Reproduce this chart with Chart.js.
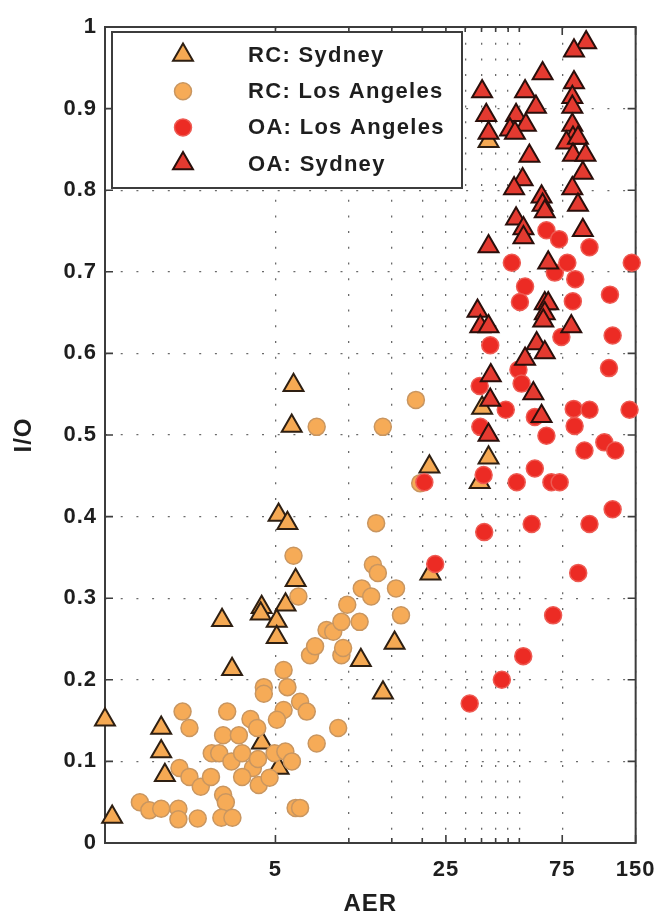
<!DOCTYPE html>
<html>
<head>
<meta charset="utf-8">
<script src="https://cdn.jsdelivr.net/npm/chart.js@4.4.1/dist/chart.umd.min.js"></script>
<style>
  html, body { margin: 0; padding: 0; background: #fff; }
</style>
</head>
<body>
<canvas id="grafico" width="668" height="921"></canvas>
<script>
// valores: [AER, I/O]
const rcSydney = [
  [1.0, 0.151], [1.07, 0.032], [1.70, 0.141], [1.70, 0.112], [1.76, 0.083],
  [3.02, 0.273], [3.32, 0.213], [4.39, 0.289], [4.35, 0.281], [5.5, 0.292],
  [5.06, 0.272], [5.06, 0.252], [6.05, 0.322], [5.93, 0.561], [5.83, 0.511],
  [5.15, 0.402], [5.6, 0.392], [4.4, 0.123], [5.15, 0.092], [11.2, 0.224],
  [13.8, 0.184], [15.4, 0.245], [21.4, 0.461], [21.6, 0.33], [35.2, 0.533],
  [37.4, 0.472], [34.4, 0.442], [37.4, 0.86]
];

const rcLosAngeles = [
  [2.08, 0.161], [2.22, 0.141], [3.17, 0.161], [3.05, 0.132], [3.54, 0.132],
  [3.95, 0.152], [4.21, 0.141], [4.48, 0.191], [4.48, 0.183], [5.40, 0.212],
  [5.60, 0.191], [6.31, 0.173], [6.72, 0.161], [5.40, 0.163], [5.07, 0.151],
  [7.38, 0.122], [9.04, 0.141], [9.32, 0.230], [2.74, 0.110], [2.94, 0.110],
  [3.30, 0.100], [3.65, 0.110], [4.04, 0.092], [4.24, 0.103], [4.96, 0.110],
  [5.49, 0.112], [5.84, 0.100], [2.02, 0.092], [2.22, 0.081], [2.47, 0.069],
  [2.72, 0.081], [3.65, 0.081], [4.27, 0.071], [4.73, 0.080], [1.39, 0.050],
  [1.52, 0.040], [1.70, 0.042], [2.00, 0.042], [2.00, 0.029], [2.40, 0.030],
  [3.05, 0.059], [3.13, 0.050], [3.00, 0.031], [3.33, 0.031], [6.05, 0.043],
  [6.31, 0.043], [6.21, 0.302], [8.10, 0.261], [8.63, 0.259], [9.32, 0.271],
  [9.85, 0.292], [11.07, 0.271], [11.3, 0.312], [12.35, 0.302], [6.93, 0.230],
  [7.27, 0.241], [9.47, 0.239], [5.93, 0.352], [7.38, 0.510], [13.78, 0.510],
  [12.94, 0.392], [12.55, 0.341], [13.15, 0.331], [15.61, 0.312], [16.36, 0.279],
  [18.83, 0.543], [19.61, 0.441]
];

const oaLosAngeles = [
  [64.6, 0.751], [72.8, 0.740], [97.0, 0.730], [46.6, 0.711], [69.9, 0.699],
  [78.7, 0.711], [84.8, 0.691], [144.6, 0.711], [52.8, 0.682], [117.7, 0.672],
  [50.3, 0.663], [82.9, 0.664], [38.0, 0.610], [74.4, 0.620], [120.7, 0.622],
  [116.6, 0.582], [49.6, 0.580], [34.4, 0.560], [44.0, 0.531], [83.6, 0.532],
  [97.0, 0.531], [141.6, 0.531], [34.6, 0.510], [51.1, 0.563], [57.9, 0.522],
  [84.3, 0.511], [64.6, 0.499], [92.5, 0.481], [111.6, 0.491], [123.7, 0.481],
  [57.9, 0.459], [35.7, 0.451], [20.4, 0.442], [48.8, 0.442], [67.7, 0.442],
  [73.2, 0.442], [120.7, 0.409], [56.2, 0.391], [97.0, 0.391], [35.9, 0.381],
  [22.6, 0.342], [87.2, 0.331], [68.8, 0.279], [51.9, 0.229], [42.4, 0.200],
  [31.3, 0.171]
];

const oaSydney = [
  [94.0, 0.981], [83.8, 0.971], [62.3, 0.943], [83.8, 0.932], [35.2, 0.921],
  [52.8, 0.921], [58.5, 0.902], [82.5, 0.914], [82.5, 0.902], [36.6, 0.892],
  [48.5, 0.892], [53.2, 0.880], [45.8, 0.874], [48.0, 0.870], [37.4, 0.870],
  [82.5, 0.880], [83.0, 0.864], [78.0, 0.858], [87.0, 0.864], [83.0, 0.843],
  [93.4, 0.843], [55.0, 0.842], [91.1, 0.821], [51.6, 0.813], [47.6, 0.802],
  [82.5, 0.802], [87.0, 0.782], [61.7, 0.792], [62.3, 0.782], [63.6, 0.774],
  [48.5, 0.765], [52.0, 0.753], [52.0, 0.742], [91.1, 0.751], [37.4, 0.731],
  [65.7, 0.711], [33.7, 0.652], [34.6, 0.633], [37.4, 0.633], [63.6, 0.661],
  [65.7, 0.661], [63.6, 0.649], [62.7, 0.640], [81.7, 0.633], [58.9, 0.612],
  [63.6, 0.601], [52.8, 0.593], [38.2, 0.573], [57.1, 0.551], [38.0, 0.543],
  [61.7, 0.523], [37.4, 0.500]
];

// eixos
const xGridValues = [5, 10, 15, 20, 25, 30, 35, 40, 45, 50, 75, 150];
const xLabelValues = [5, 25, 75, 150];
const yTickValues = [0, 0.1, 0.2, 0.3, 0.4, 0.5, 0.6, 0.7, 0.8, 0.9, 1];

const fonte = '"Liberation Sans", Arial, Helvetica, sans-serif';
const toPoints = (lista) => lista.map(([x, y]) => ({ x, y }));

// letras um pouco mais espacadas, como no original
const espacamento = {
  id: 'espacamento',
  beforeDraw(chart) {
    chart.ctx.letterSpacing = '1px';
  }
};

// moldura e ticks para dentro (estilo matlab)
const moldura = {
  id: 'moldura',
  beforeDatasetsDraw(chart) {
    const { ctx, chartArea: a, scales: { x, y } } = chart;
    ctx.save();
    ctx.strokeStyle = '#3c3c3c';
    ctx.lineWidth = 1.6;
    ctx.beginPath();
    xGridValues.forEach((v) => {
      const px = x.getPixelForValue(v);
      const len = xLabelValues.includes(v) ? 8 : 5;
      ctx.moveTo(px, a.bottom);
      ctx.lineTo(px, a.bottom - len);
      ctx.moveTo(px, a.top);
      ctx.lineTo(px, a.top + len);
    });
    yTickValues.forEach((v) => {
      const py = y.getPixelForValue(v);
      ctx.moveTo(a.left, py);
      ctx.lineTo(a.left + 8, py);
      ctx.moveTo(a.right, py);
      ctx.lineTo(a.right - 8, py);
    });
    ctx.stroke();
    ctx.lineWidth = 2;
    ctx.strokeRect(a.left, a.top, a.right - a.left, a.bottom - a.top);
    ctx.restore();
  }
};

// legenda dentro da area do grafico
const legenda = {
  id: 'legenda',
  afterDatasetsDraw(chart) {
    const { ctx, chartArea: a } = chart;
    const left = a.left + 7;
    const top = a.top + 5;
    ctx.save();
    ctx.fillStyle = '#fff';
    ctx.fillRect(left, top, 350, 156);
    ctx.strokeStyle = '#3c3c3c';
    ctx.lineWidth = 2;
    ctx.strokeRect(left, top, 350, 156);
    chart.data.datasets.forEach((ds, i) => {
      const cy = top + 23 + i * 36.2;
      ctx.fillStyle = ds.backgroundColor;
      ctx.strokeStyle = ds.borderColor;
      ctx.lineWidth = ds.borderWidth;
      Chart.helpers.drawPoint(ctx, {
        pointStyle: ds.pointStyle,
        radius: ds.pointRadius,
        borderWidth: ds.borderWidth,
        rotation: 0
      }, left + 71, cy);
      ctx.fillStyle = '#1e1e1e';
      ctx.font = 'bold 22px ' + fonte;
      ctx.letterSpacing = '1.3px';
      ctx.textBaseline = 'middle';
      ctx.fillText(ds.label, left + 136, cy + 1);
    });
    ctx.restore();
  }
};

const canvas = document.getElementById('grafico');
const ctx = canvas.getContext('2d');

new Chart(ctx, {
  type: 'scatter',
  data: {
    datasets: [
      {
        label: 'RC: Sydney',
        data: toPoints(rcSydney),
        pointStyle: 'triangle',
        pointRadius: 11.5,
        backgroundColor: '#f5a953',
        borderColor: '#2e1f12',
        borderWidth: 2,
        clip: false,
        order: 4
      },
      {
        label: 'RC: Los Angeles',
        data: toPoints(rcLosAngeles),
        pointStyle: 'circle',
        pointRadius: 8.5,
        backgroundColor: '#f6ab57',
        borderColor: '#c99660',
        borderWidth: 1.5,
        clip: false,
        order: 3
      },
      {
        label: 'OA: Los Angeles',
        data: toPoints(oaLosAngeles),
        pointStyle: 'circle',
        pointRadius: 8.5,
        backgroundColor: '#ec2b24',
        borderColor: '#ee5a52',
        borderWidth: 1.5,
        clip: false,
        order: 2
      },
      {
        label: 'OA: Sydney',
        data: toPoints(oaSydney),
        pointStyle: 'triangle',
        pointRadius: 11.5,
        backgroundColor: '#e43a30',
        borderColor: '#2a0f0b',
        borderWidth: 2,
        clip: false,
        order: 1
      }
    ]
  },
  options: {
    responsive: false,
    animation: false,
    events: [],
    layout: { padding: { top: 27, right: 25, left: 0, bottom: 0 } },
    plugins: {
      legend: { display: false },
      tooltip: { enabled: false }
    },
    scales: {
      x: {
        type: 'logarithmic',
        min: 1,
        max: 150,
        afterBuildTicks: (scale) => {
          scale.ticks = xGridValues.map((v) => ({ value: v }));
        },
        afterFit: (scale) => { scale.height = 78; },
        ticks: {
          autoSkip: false,
          maxRotation: 0,
          padding: 14,
          color: '#1e1e1e',
          font: { family: fonte, size: 22, weight: 'bold' },
          callback: (v) => (xLabelValues.includes(v) ? String(v) : '')
        },
        grid: { color: '#6a6a6a', lineWidth: 1.3, drawTicks: false },
        border: { display: false, dash: [2, 13.7] },
        title: {
          display: true,
          text: 'AER',
          color: '#1e1e1e',
          font: { family: fonte, size: 24, weight: 'bold' },
          padding: { top: 0, bottom: 2 }
        }
      },
      y: {
        type: 'linear',
        min: 0,
        max: 1,
        afterBuildTicks: (scale) => {
          scale.ticks = yTickValues.map((v) => ({ value: v }));
        },
        afterFit: (scale) => { scale.width = 105; },
        ticks: {
          padding: 8,
          color: '#1e1e1e',
          font: { family: fonte, size: 22, weight: 'bold' },
          callback: (v) => String(v)
        },
        grid: { color: '#6a6a6a', lineWidth: 1.3, drawTicks: false },
        border: { display: false, dash: [2, 13.7] },
        title: {
          display: true,
          text: 'I/O',
          color: '#1e1e1e',
          font: { family: fonte, size: 24, weight: 'bold' },
          padding: { top: 10, bottom: 0 }
        }
      }
    }
  },
  plugins: [espacamento, moldura, legenda]
});
</script>
</body>
</html>
